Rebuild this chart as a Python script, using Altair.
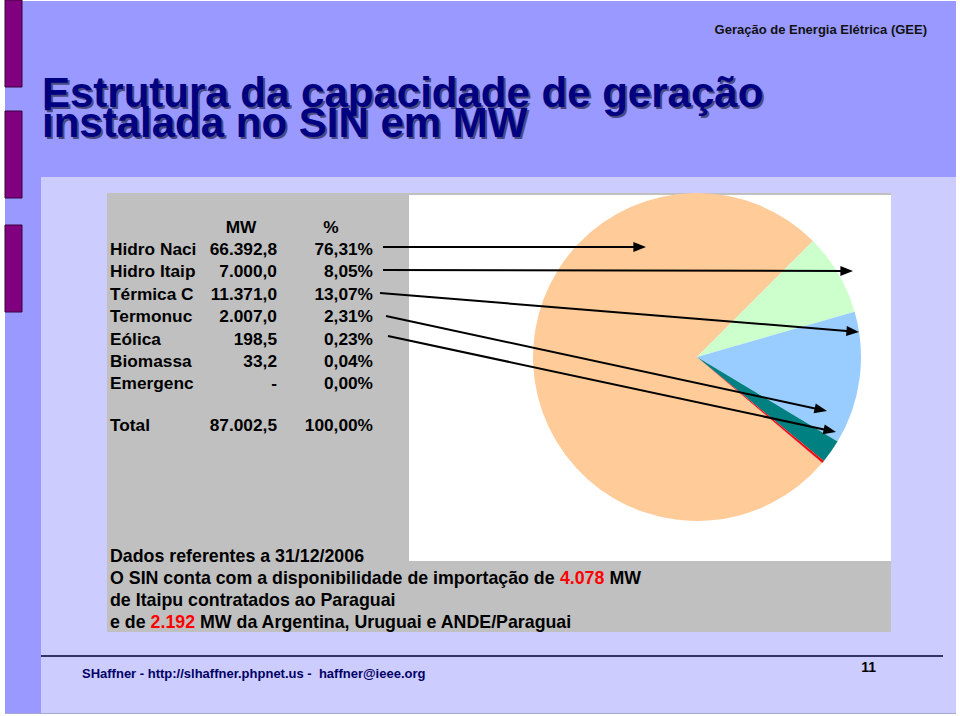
import math
import altair as alt
import pandas as pd

# ------------------------------------------------------------------ data
fontes = ["Hidro Naci", "Hidro Itaip", "Térmica C", "Termonuc", "Eólica", "Biomassa", "Emergenc"]
capacidade_mw = [66392.8, 7000.0, 11371.0, 2007.0, 198.5, 33.2, 0.0]
participacao_pct = [76.31, 8.05, 13.07, 2.31, 0.23, 0.04, 0.00]
total_mw = 87002.5
total_pct = 100.00
importacao_paraguai_mw = 4078
importacao_outros_mw = 2192
data_referencia = "31/12/2006"

titulo_l1 = "Estrutura da capacidade de geração"
titulo_l2 = "instalada no SIN em MW"
cabecalho = "Geração de Energia Elétrica (GEE)"
rodape = "SHaffner - http://slhaffner.phpnet.us -\u00a0 haffner@ieee.org"
pagina = "11"

# ------------------------------------------------------------------ styles / layout
slice_colors = ["#FFCC99", "#CCFFCC", "#99CCFF", "#008080", "#FF0000", "#993366", "#FFFF99"]
FIRST_SLICE_DEG = 45.0          # angle where the 2nd slice (Itaipu) begins
PIE_CX, PIE_CY, PIE_R = 697, 357, 164
FONT = "Liberation Sans"
TABLE_FS = 17.3
NOTE_FS = 17.8


def br(v, dec):
    if v == 0:
        return "-"
    s = f"{v:,.{dec}f}"
    return s.replace(",", "X").replace(".", ",").replace("X", ".")


def pct_fmt(p):
    return f"{p:.2f}".replace(".", ",") + "%"


def px(ch):
    return alt.X(f"{ch}:Q", scale=None, axis=None)


def py(ch):
    return alt.Y(f"{ch}:Q", scale=None, axis=None)


# ------------------------------------------------------------------ background rectangles
bg = pd.DataFrame([
    dict(x=0, x2=960, y=0, y2=716, fill="#FFFFFF"),
    dict(x=5, x2=956, y=1, y2=713, fill="#9999FF"),
    dict(x=41, x2=956, y=177, y2=713, fill="#CCCCFF"),
    dict(x=5, x2=956, y=713, y2=714, fill="#A8A8D0"),
    dict(x=107, x2=891, y=193, y2=632, fill="#C0C0C0"),
    dict(x=409, x2=891, y=195, y2=561, fill="#FFFFFF"),
])
bg_layer = alt.Chart(bg).mark_rect(strokeWidth=0).encode(
    x=px("x"), x2="x2:Q", y=py("y"), y2="y2:Q",
    fill=alt.Fill("fill:N", scale=None),
)

bars = pd.DataFrame([
    dict(x=5, x2=22, y=0, y2=87),
    dict(x=5, x2=22, y=111, y2=198),
    dict(x=5, x2=22, y=225, y2=312),
])
bars_layer = alt.Chart(bars).mark_rect(fill="#800080", stroke="#3A003A", strokeWidth=1).encode(
    x=px("x"), x2="x2:Q", y=py("y"), y2="y2:Q"
)

# ------------------------------------------------------------------ titles
title_df = pd.DataFrame([
    dict(t=titulo_l1, x=42, y=107),
    dict(t=titulo_l2, x=42, y=137),
])
title_shadow = alt.Chart(title_df).mark_text(
    font=FONT, fontSize=42, fontWeight="bold", align="left", baseline="alphabetic",
    color="#4A4A80", dx=2, dy=2,
).encode(x=px("x"), y=py("y"), text="t:N")
title_main = alt.Chart(title_df).mark_text(
    font=FONT, fontSize=42, fontWeight="bold", align="left", baseline="alphabetic",
    color="#000080",
).encode(x=px("x"), y=py("y"), text="t:N")

header_layer = alt.Chart(pd.DataFrame([dict(t=cabecalho, x=927, y=34)])).mark_text(
    font=FONT, fontSize=13, fontWeight="bold", align="right", baseline="alphabetic", color="#111111"
).encode(x=px("x"), y=py("y"), text="t:N")

# ------------------------------------------------------------------ pie
pie_df = pd.DataFrame({
    "fonte": fontes,
    "mw": capacidade_mw,
    "ordem": list(range(len(fontes))),
})
frac0 = capacidade_mw[0] / sum(capacidade_mw)
start = math.radians(FIRST_SLICE_DEG) - 2 * math.pi * frac0 + 2 * math.pi
pie_layer = alt.Chart(pie_df).mark_arc(outerRadius=PIE_R, strokeWidth=0).encode(
    theta=alt.Theta("mw:Q", stack=True, scale=alt.Scale(range=[start, start + 2 * math.pi])),
    color=alt.Color("fonte:N", scale=alt.Scale(domain=fontes, range=slice_colors), legend=None),
    order=alt.Order("ordem:Q"),
    x=alt.value(PIE_CX), y=alt.value(PIE_CY),
)

# ------------------------------------------------------------------ table
ROW0, ROW_H = 255, 22.4
rows = []
for i, (f, v, p) in enumerate(zip(fontes, capacidade_mw, participacao_pct)):
    rows.append(dict(lab=f, mw=br(v, 1), pct=pct_fmt(p), y=ROW0 + i * ROW_H))
rows.append(dict(lab="Total", mw=br(total_mw, 1), pct=pct_fmt(total_pct), y=431))
tab = pd.DataFrame(rows)

tbase = alt.Chart(tab)
tstyle = dict(font=FONT, fontSize=TABLE_FS, fontWeight="bold", baseline="alphabetic", color="#000000")
lab_layer = tbase.mark_text(align="left", **tstyle).encode(x=alt.value(110), y=py("y"), text="lab:N")
mw_layer = tbase.mark_text(align="right", **tstyle).encode(x=alt.value(277), y=py("y"), text="mw:N")
pct_layer = tbase.mark_text(align="right", **tstyle).encode(x=alt.value(373), y=py("y"), text="pct:N")
head_df = pd.DataFrame([dict(t="MW", x=241, y=233), dict(t="%", x=331, y=233)])
head_layer = alt.Chart(head_df).mark_text(align="center", **tstyle).encode(x=px("x"), y=py("y"), text="t:N")

# ------------------------------------------------------------------ arrows
arrows = [
    ((383, 247), (646, 247)),
    ((383, 270), (853, 271)),
    ((380, 293), (859, 332)),
    ((386, 316), (827, 411)),
    ((388, 336), (836, 432)),
]
HEAD = 6.3
lines, heads = [], []
for (x0, y0), (x1, y1) in arrows:
    ang = math.atan2(y1 - y0, x1 - x0)
    cx, cy = x1 - HEAD * math.cos(ang), y1 - HEAD * math.sin(ang)
    lines.append(dict(x=x0, y=y0, x2=cx, y2=cy))
    heads.append(dict(x=cx, y=cy, a=math.degrees(ang) % 360))
line_layer = alt.Chart(pd.DataFrame(lines)).mark_rule(color="#000000", strokeWidth=2).encode(
    x=px("x"), y=py("y"), x2="x2:Q", y2="y2:Q"
)
head_layer_arrow = alt.Chart(pd.DataFrame(heads)).mark_point(
    shape="M1,0L-1,-0.8L-1,0.8Z", filled=True, size=(2 * HEAD) ** 2, color="#000000", opacity=1, strokeWidth=0
).encode(x=px("x"), y=py("y"), angle=alt.Angle("a:Q", scale=None))

# ------------------------------------------------------------------ note text
EM_PREFIX2 = 25.275   # "O SIN conta com a disponibilidade de importação de "
EM_NUM = 2.502        # "4.078"
EM_SPACE = 0.278
EM_PREFIX4 = 2.279    # "e de "
X0 = 110
segs = [
    dict(t=f"Dados referentes a {data_referencia}", x=X0, y=562, c="#000000"),
    dict(t="O SIN conta com a disponibilidade de importação de", x=X0, y=584, c="#000000"),
    dict(t=br(importacao_paraguai_mw, 0), x=X0 + EM_PREFIX2 * NOTE_FS, y=584, c="#FF0000"),
    dict(t="MW", x=X0 + (EM_PREFIX2 + EM_NUM + EM_SPACE) * NOTE_FS, y=584, c="#000000"),
    dict(t="de Itaipu contratados ao Paraguai", x=X0, y=606, c="#000000"),
    dict(t="e de", x=X0, y=628, c="#000000"),
    dict(t=br(importacao_outros_mw, 0), x=X0 + EM_PREFIX4 * NOTE_FS, y=628, c="#FF0000"),
    dict(t="MW da Argentina, Uruguai e ANDE/Paraguai", x=X0 + (EM_PREFIX4 + EM_NUM + EM_SPACE) * NOTE_FS, y=628, c="#000000"),
]
note_layer = alt.Chart(pd.DataFrame(segs)).mark_text(
    font=FONT, fontSize=NOTE_FS, fontWeight="bold", align="left", baseline="alphabetic"
).encode(x=px("x"), y=py("y"), text="t:N", color=alt.Color("c:N", scale=None))

# ------------------------------------------------------------------ footer
foot_line = alt.Chart(pd.DataFrame([dict(x=41, x2=943, y=656)])).mark_rule(
    color="#000033", strokeWidth=1.5
).encode(x=px("x"), x2="x2:Q", y=py("y"))
foot_text = alt.Chart(pd.DataFrame([dict(t=rodape, x=82, y=678)])).mark_text(
    font=FONT, fontSize=13, fontWeight="bold", align="left", baseline="alphabetic", color="#000066"
).encode(x=px("x"), y=py("y"), text="t:N")
page_text = alt.Chart(pd.DataFrame([dict(t=pagina, x=876, y=672)])).mark_text(
    font=FONT, fontSize=14, fontWeight="bold", align="right", baseline="alphabetic", color="#000000"
).encode(x=px("x"), y=py("y"), text="t:N")

chart = alt.layer(
    bg_layer, bars_layer, title_shadow, title_main, header_layer,
    pie_layer, lab_layer, mw_layer, pct_layer, head_layer,
    line_layer, head_layer_arrow, note_layer, foot_line, foot_text, page_text,
).properties(
    width=960, height=716, padding=0, background="#FFFFFF",
    autosize=alt.AutoSizeParams(type="none"),
).configure_view(stroke=None)

chart.save("out.html", embed_options={"renderer": "svg", "actions": False})
